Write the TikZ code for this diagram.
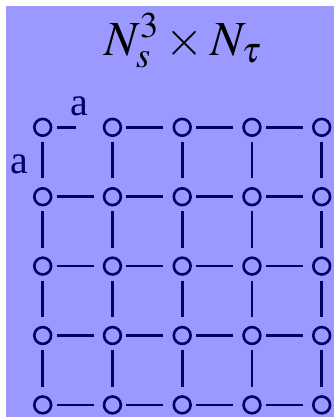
\documentclass[tikz,border=0pt]{standalone}
\usepackage{mathptmx}
\usepackage[no-math]{fontspec}
\setmainfont{Liberation Serif}
\definecolor{latbg}{RGB}{153,153,255}
\definecolor{latnavy}{RGB}{0,0,102}
\begin{document}
\begin{tikzpicture}[x=1pt, y=-1pt,
    site/.style={circle, draw=latnavy, line width=2.6pt, minimum size=16.8pt, inner sep=0pt, outer sep=0pt},
    link/.style={draw=latnavy, line width=2.6pt},
    spacing/.style={font=\fontsize{40}{44}\selectfont, text=latnavy, inner sep=0pt}]
  \useasboundingbox (0,0) rectangle (334,418);
  \fill[latbg] (6,6) rectangle (334,417);
  \node[anchor=base, font=\fontsize{49}{54}\selectfont] (title) at (183,55) {$N_s^3\times N_\tau$};
  % lattice sites
  \foreach \i in {0,...,4}
    \foreach \j in {0,...,4}
      \node[site] (v-\i-\j) at (42.7+69.75*\i, 127.3+69.4*\j) {};
  % links in x
  \draw[link, shorten <=5.5pt, shorten >=28pt] (v-0-0) -- (v-1-0);
  \foreach \j in {1,...,4}
    \draw[link, shorten <=5.5pt, shorten >=10.5pt] (v-0-\j) -- (v-1-\j);
  \foreach \i/\k in {1/2,2/3,3/4}
    \foreach \j in {0,...,4}
      \draw[link, shorten <=5.5pt, shorten >=10.5pt] (v-\i-\j) -- (v-\k-\j);
  % links in tau
  \foreach \j/\k in {0/1,1/2,2/3,3/4}
    \draw[link, xshift=-2.5pt, shorten <=6pt, shorten >=10pt] (v-0-\j.south) -- (v-0-\k.north);
  \foreach \i in {1,...,4}
    \foreach \j/\k in {0/1,1/2,2/3,3/4}
      \draw[link, shorten <=6pt, shorten >=10pt] (v-\i-\j.south) -- (v-\i-\k.north);
  % lattice spacing
  \node[spacing, anchor=base] (a-x) at (79,115) {a};
  \node[spacing, anchor=base] (a-t) at (19,173) {a};
\end{tikzpicture}
\end{document}
